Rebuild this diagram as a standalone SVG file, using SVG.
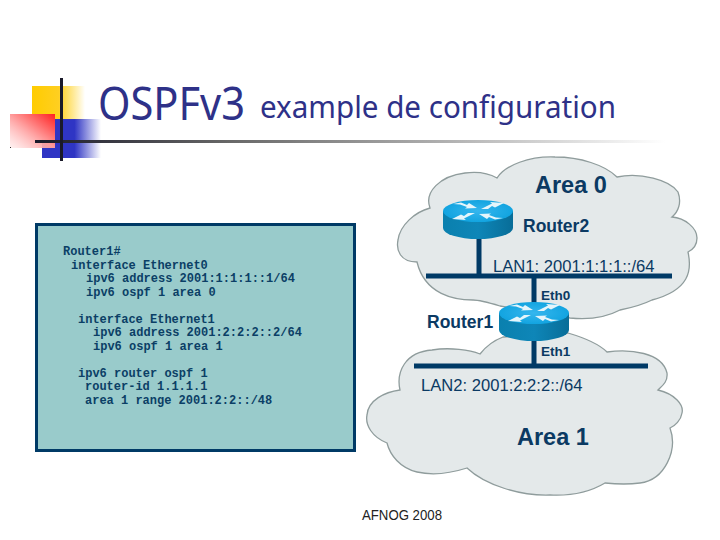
<svg xmlns="http://www.w3.org/2000/svg" width="720" height="540" viewBox="0 0 720 540">
<style>
.cloud{fill:#e4e9ea;stroke:#8f9c9c;stroke-width:1.3}
.wire{fill:none;stroke:#003a66;stroke-width:5}
.lbl{font-family:"Liberation Sans",Arial,sans-serif;fill:#0b3a63}
.b{font-weight:bold}
.code{font-family:"Liberation Mono","Courier New",monospace;font-size:12px;font-weight:bold;fill:#0b3f66;white-space:pre}
.arrow{fill:#e4f5fb}
</style>
<defs>
<linearGradient id="gy" x1="0" x2="1" y1="0" y2="0"><stop offset="0" stop-color="#ffcc00"/><stop offset=".5" stop-color="#ffcf20"/><stop offset="1" stop-color="#ffcc00" stop-opacity="0"/></linearGradient>
<linearGradient id="gb" x1="0" x2="1" y1="0" y2="0"><stop offset="0" stop-color="#2f35c4"/><stop offset=".55" stop-color="#2f35c4"/><stop offset="1" stop-color="#2f35c4" stop-opacity="0"/></linearGradient>
<linearGradient id="gr" x1="1" x2="0" y1="0" y2="1"><stop offset="0" stop-color="#ff2020"/><stop offset=".5" stop-color="#ff9a9a"/><stop offset="1" stop-color="#ffe8e8" stop-opacity=".6"/></linearGradient>
<linearGradient id="gl" gradientUnits="userSpaceOnUse" x1="35" x2="665" y1="0" y2="0"><stop offset="0" stop-color="#1a1a2a"/><stop offset=".3" stop-color="#666"/><stop offset=".65" stop-color="#b0b0b0"/><stop offset="1" stop-color="#fff"/></linearGradient>
<linearGradient id="side" x1="0" x2="1" y1="0" y2="0"><stop offset="0" stop-color="#0a80ae"/><stop offset=".5" stop-color="#0e86b8"/><stop offset="1" stop-color="#086d98"/></linearGradient>
<radialGradient id="top"><stop offset="0" stop-color="#35b6ee"/><stop offset="1" stop-color="#12a4e0"/></radialGradient>
<g id="rt">
<path d="M-35 0V17A35 11 0 0 0 35 17V0Z" fill="url(#side)"/>
<ellipse rx="35" ry="11" fill="url(#top)"/>
<path class="arrow" d="M-25-7L-17-8.500L-11-6L-9-8L-1-3L-13-2.500L-11-4L-18-6.500Z"/>
<path class="arrow" d="M3-2L10-2L14-5L17-3.500L26-8L12-9L14-7.500L9-5Z"/>
<path class="arrow" d="M-3 2L-10 2L-14 5L-17 3.500L-26 8L-12 9L-14 7.500L-9 5Z"/>
<path class="arrow" d="M25 7L17 8.500L11 6L9 8L1 3L13 2.500L11 4L18 6.500Z"/>
</g>
</defs>
<rect width="720" height="540" fill="#fff"/>
<g id="logo">
<rect x="32" y="86" width="53" height="34" fill="url(#gy)"/>
<rect x="42" y="119" width="59" height="39" fill="url(#gb)"/>
<rect x="10" y="114" width="45" height="34" fill="url(#gr)"/>
<rect x="35" y="140" width="630" height="3" fill="url(#gl)"/>
<rect x="60" y="78" width="3" height="83" fill="#1a1a2a"/>
<rect x="10" y="147" width="1" height="1" fill="#333"/>
</g>
<g id="title" font-family="'Noto Sans','Liberation Sans',sans-serif" fill="#2e3188">
<text x="98" y="120" font-size="46" textLength="147" lengthAdjust="spacingAndGlyphs">OSPFv3</text>
<text x="260" y="118" font-size="31" textLength="356" lengthAdjust="spacingAndGlyphs">example de configuration</text>
</g>
<g id="code-box">
<rect x="36.500" y="224.500" width="318" height="226" fill="#99cbcb" stroke="#003a66" stroke-width="3"/>
<text class="code" x="63" y="255">Router1#</text>
<text class="code" x="71" y="269">interface Ethernet0</text>
<text class="code" x="86" y="282">ipv6 address 2001:1:1:1::1/64</text>
<text class="code" x="86" y="296">ipv6 ospf 1 area 0</text>
<text class="code" x="78" y="323">interface Ethernet1</text>
<text class="code" x="93" y="336">ipv6 address 2001:2:2:2::2/64</text>
<text class="code" x="93" y="350">ipv6 ospf 1 area 1</text>
<text class="code" x="78" y="377">ipv6 router ospf 1</text>
<text class="code" x="85" y="390">router-id 1.1.1.1</text>
<text class="code" x="85" y="404">area 1 range 2001:2:2::/48</text>
</g>
<g id="area0">
<path class="cloud" d="M417 262C400 262 396 250 398 240C400 225 415 212 430 208C424 192 440 176 465 173C480 171 490 174 497 178C505 165 530 156 555 157C580 157 605 165 617 177C640 172 670 180 678 192C682 203 678 212 672 217C685 218 697 228 697 238C697 246 692 250 688 252C692 270 690 290 652 300C640 306 630 308 620 310C605 318 590 320 570 318L500 306C490 303 480 300 473 300C455 300 425 295 417 262Z"/>
<text class="lbl b" x="535" y="193" font-size="23.500">Area 0</text>
</g>
<g id="area1">
<path class="cloud" d="M400 390C396 372 405 352 432 350C450 347 470 350 480 354C487 345 495 340 503 337L568 333C585 338 600 345 607 352C630 349 662 352 667 373C668 382 662 386 658 390C675 394 684 405 682 413C681 420 675 426 670 428C678 450 665 480 640 483C625 485 615 484 605 483C590 492 570 496 550 495C520 496 485 485 467 468C445 475 430 475 417 472C400 468 390 455 387 443C372 437 365 425 367 415C368 400 385 392 400 390Z"/>
<text class="lbl b" x="517" y="445" font-size="23.500">Area 1</text>
</g>
<g id="connectors">
<path class="wire" d="M479 235V276M426 276H672M534 276V310M534 335V366M414 366H648"/>
</g>
<g id="router2"><use href="#rt" x="478" y="211"/><text class="lbl b" x="523" y="232" font-size="17.500">Router2</text></g>
<g id="router1"><use href="#rt" x="534" y="313"/><text class="lbl b" x="427" y="328" font-size="17.500">Router1</text></g>
<g id="labels">
<text class="lbl" x="493" y="272" font-size="16.600">LAN1: 2001:1:1:1::/64</text>
<text class="lbl b" x="541" y="300" font-size="13.500">Eth0</text>
<text class="lbl b" x="541" y="356" font-size="13.500">Eth1</text>
<text class="lbl" x="421" y="391" font-size="16.600">LAN2: 2001:2:2:2::/64</text>
</g>
<text id="footer" x="362" y="520" font-family="'Liberation Sans',Arial,sans-serif" font-size="14" fill="#222" textLength="80" lengthAdjust="spacingAndGlyphs">AFNOG 2008</text>
</svg>
